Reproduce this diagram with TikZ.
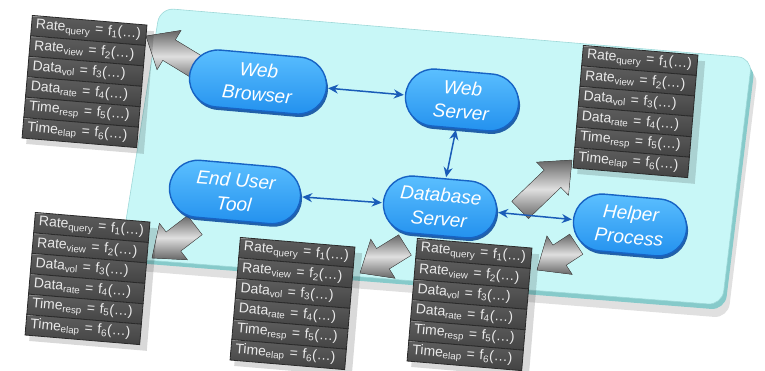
\documentclass[tikz,border=0pt]{standalone}
\usepackage{fontspec}
\setmainfont{Liberation Sans}
\usetikzlibrary{shapes.misc,arrows.meta,shadows}

\definecolor{plat}{HTML}{C8F7F7}
\definecolor{platrim}{HTML}{86CACA}
\definecolor{platedge}{HTML}{9ED8D8}
\definecolor{blueA}{HTML}{5CC0FF}
\definecolor{blueB}{HTML}{2290EE}
\definecolor{blueEdge}{HTML}{1763C4}
\definecolor{blueShadow}{HTML}{1150A0}
\definecolor{linkblue}{HTML}{1A5CB8}
\definecolor{rowA}{HTML}{5E5E5E}
\definecolor{rowB}{HTML}{434343}
\definecolor{rowEdge}{HTML}{2A2A2A}
\definecolor{rowHi}{HTML}{9A9A9A}
\definecolor{rowText}{HTML}{EAEAEA}

\tikzset{
 proc/.style={rounded rectangle, rotate=-5, top color=blueA, bottom color=blueB,
   draw=blueEdge, line width=1.4pt, text=white,
   font=\fontsize{19}{24}\selectfont\itshape, align=center, minimum height=57pt,
   drop shadow={shadow xshift=1.5pt, shadow yshift=-3pt, fill=blueShadow, opacity=0.9}},
 link/.style={draw=linkblue, line width=1.5pt,
   {Stealth[length=10pt,width=9pt]}-{Stealth[length=10pt,width=9pt]},
   shorten >=1pt, shorten <=1pt},
 row/.style={rectangle, anchor=north west, minimum height=20.5pt, text width=106pt,
   inner xsep=4.5pt, inner ysep=0pt, align=left, top color=rowA, bottom color=rowB,
   draw=rowEdge, line width=0.8pt, text=rowText, font=\fontsize{14}{15}\selectfont,
   path picture={\draw[rowHi, line width=1.2pt]
     ([yshift=-0.8pt]path picture bounding box.north west) --
     ([yshift=-0.8pt]path picture bounding box.north east);}},
 blockarrow/.style={top color=gray!80!black, bottom color=gray!80!black,
   middle color=gray!25, draw=gray!60!black, line width=0.4pt},
}

\newcommand\statstack[2]{%
 \begin{scope}[shift={#2}, rotate=-4.8, transform shape]
  \fill[black, opacity=0.15] (5,6) rectangle (123,129);
  \foreach \i/\a/\b in {0/Rate/query, 1/Rate/view, 2/Data/vol, 3/Data/rate, 4/Time/resp, 5/Time/elap}{
   \pgfmathtruncatemacro\k{\i+1}
   \node[row] (#1-\k) at (0,\i*20.5) {\a\textsubscript{\b} = f\textsubscript{\k}(…)};
  }
 \end{scope}}

\newcommand\garrow[3]{%
 \begin{scope}[shift={#1}, rotate=#2]
  \fill[blockarrow] (0,0) -- (-27,23) -- (-27,12) -- (-#3,12) -- (-#3,-12)
     -- (-27,-12) -- (-27,-23) -- cycle;
 \end{scope}}

\begin{document}
\begin{tikzpicture}[x=1pt,y=-1pt]
\useasboundingbox (0,0) rectangle (765,370);

% platform
\fill[black, opacity=0.12, rounded corners=14pt] (460,44) -- (758,70) -- (728,318) -- (126,270) -- (168,18) -- cycle;
\fill[platrim, rounded corners=14pt] (458,37) -- (755,64) -- (725,310) -- (123,262) -- (163,12) -- cycle;
\fill[plat, draw=platedge, line width=0.6pt, rounded corners=14pt] (456,33) -- (752,58) -- (722,305) -- (120,258) -- (160,8) -- cycle;

% grey block arrows
\garrow{(146,36)}{148.6}{69}
\garrow{(152,258)}{217.5}{54}
\garrow{(360,273)}{211.9}{53}
\garrow{(572,160)}{43.9}{72}
\garrow{(537,270)}{213.3}{47}

% stacks
\statstack{tl}{(32,15)}
\statstack{tr}{(583,45)}
\statstack{bl}{(35,212)}
\statstack{bm}{(240,237)}
\statstack{br}{(417,238)}

% processes
\node[proc, minimum width=144pt] (wb) at (258,82) {Web\\Browser};
\node[proc, minimum width=120pt] (ws) at (462,100) {Web\\Server};
\node[proc, minimum width=138pt] (eu) at (235,192) {End User\\Tool};
\node[proc, minimum width=120pt] (db) at (440,207) {Database\\Server};
\node[proc, minimum width=120pt] (hp) at (630,225) {Helper\\Process};

% links
\draw[link] (wb) -- (ws);
\draw[link] (ws) -- (db);
\draw[link] (eu) -- (db);
\draw[link] (db) -- (hp);
\end{tikzpicture}
\end{document}
